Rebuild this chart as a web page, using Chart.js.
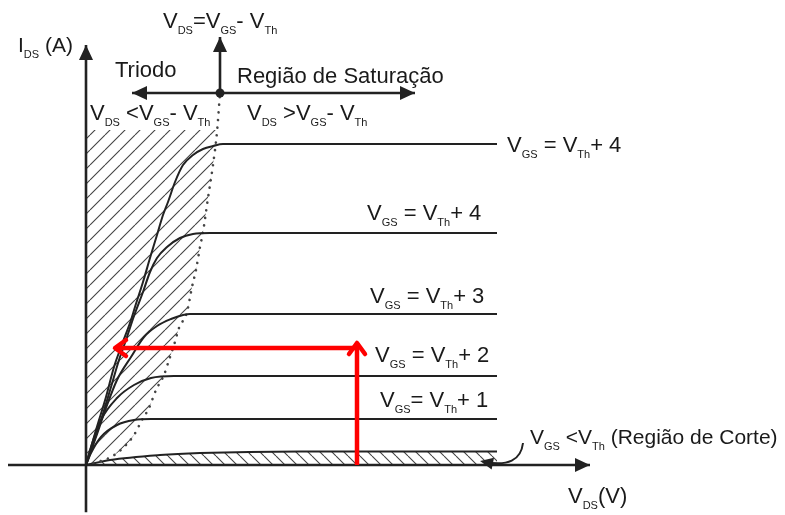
<!DOCTYPE html>
<html>
<head>
<meta charset="utf-8">
<script src="https://cdn.jsdelivr.net/npm/chart.js@4.4.1/dist/chart.umd.min.js"></script>
<style>
  body { margin: 0; background: #fff; }
  #wrap { width: 785px; height: 515px; position: relative; }
</style>
</head>
<body>
<div id="wrap"><canvas id="myChart"></canvas></div>
<script>
// curvas I_DS x V_DS, pontos [V_DS, I_DS] em unidades arbitrárias
const curveVgs4Top = [[0,0],[0.2,0.875],[0.4,1.7],[0.56,2.45],[0.7,2.95],[0.9,3.625],[0.98,3.95],[1.14,4.575],[1.28,5.175],[1.42,5.75],[1.54,6.25],[1.64,6.575],[1.78,7.075],[1.94,7.5],[2.14,7.75],[2.34,7.9],[2.54,7.975],[2.74,8.025],[8.22,8.025]];
const curveVgs4 = [[0,0],[0.3,1.125],[0.5,1.95],[0.66,2.625],[0.8,3.125],[0.96,3.725],[1.14,4.325],[1.28,4.825],[1.42,5.175],[1.62,5.45],[1.88,5.675],[2.14,5.775],[2.48,5.8],[8.22,5.8]];
const curveVgs3 = [[0,0],[0.2,0.7],[0.4,1.425],[0.62,2.125],[0.9,2.7],[1.16,3.2],[1.42,3.475],[1.7,3.65],[1.94,3.75],[2.08,3.775],[8.22,3.775]];
const curveVgs2 = [[0,0],[0.1,0.45],[0.3,1.125],[0.62,1.675],[0.96,2.0],[1.3,2.175],[1.76,2.225],[8.22,2.225]];
const curveVgs1 = [[0,0],[0.1,0.3],[0.3,0.7],[0.62,1.0],[0.96,1.125],[1.3,1.15],[1.54,1.15],[8.22,1.15]];
const curveCorte = [[0,0],[0.48,0.125],[1.48,0.25],[2.28,0.3],[4.28,0.34],[8.22,0.34]];

// limite V_DS = V_GS - V_Th
const saturationEdge = [[0,0],[0.5,0.2],[0.76,0.45],[0.96,0.75],[1.12,1.125],[1.26,1.425],[1.4,1.875],[1.56,2.25],[1.66,2.625],[1.76,3.0],[1.86,3.425],[2.02,3.825],[2.12,4.45],[2.2,4.875],[2.28,5.45],[2.34,5.825],[2.44,6.675],[2.54,7.5],[2.62,8.325],[2.68,9.3]];
const triodeTop = 8.375;

// eixos e setas
const axisX = [[-1.56,0],[10.08,0]];
const axisY = [[0,-1.18],[0,10.5]];
const markerUp = [[2.68,9.3],[2.68,10.7]];
const markerLeft = [[2.68,9.3],[0.92,9.3]];
const markerRight = [[2.68,9.3],[6.58,9.3]];
const redUp = [[5.42,0],[5.42,3.05]];
const redLeft = [[5.42,2.925],[0.58,2.925]];
const cortePointer = [[8.74,0.55],[8.68,-0.1],[7.96,0.08]];

const labelTexts = [
  'V_{DS}=V_{GS}- V_{Th}',
  'I_{DS} (A)',
  'Triodo',
  'Região de Saturação',
  'V_{DS} <V_{GS}- V_{Th}',
  'V_{DS} >V_{GS}- V_{Th}',
  'V_{GS} = V_{Th}+ 4',
  'V_{GS} = V_{Th}+ 4',
  'V_{GS} = V_{Th}+ 3',
  'V_{GS} = V_{Th}+ 2',
  'V_{GS}= V_{Th}+ 1',
  'V_{GS} <V_{Th} (Região de Corte)',
  'V_{DS}(V)'
];
const labelPos = [[1.54,10.925],[-1.36,10.325],[0.58,9.7],[3.02,9.55],[0.08,8.625],[3.22,8.625],[8.42,7.825],[5.62,6.125],[5.68,4.05],[5.78,2.575],[5.88,1.45],[8.88,0.525],[9.64,-0.95]];
const labelSize = [22, 21, 22, 22, 22, 22, 22, 22, 22, 22, 22, 21, 22];

const pts = arr => arr.map(([x, y]) => ({x, y}));

function hatch(size, dir) {
  const c = document.createElement('canvas');
  c.width = c.height = size;
  const g = c.getContext('2d');
  g.strokeStyle = '#444';
  g.lineWidth = 1.1;
  g.beginPath();
  for (let k = -1; k <= 1; k++) {
    if (dir > 0) { g.moveTo(k * size, size); g.lineTo(k * size + size, 0); }
    else { g.moveTo(k * size, 0); g.lineTo(k * size + size, size); }
  }
  g.stroke();
  return g.createPattern(c, 'repeat');
}

function line(data, opts) {
  return Object.assign({
    data: pts(data), showLine: true, borderColor: '#222', borderWidth: 2,
    pointRadius: 0, fill: false, cubicInterpolationMode: 'monotone'
  }, opts);
}

const datasets = [
  line(saturationEdge.filter(p => p[1] <= triodeTop), {
    borderWidth: 0, borderColor: 'rgba(0,0,0,0)', backgroundColor: hatch(15, 1),
    fill: {value: triodeTop}, order: 10
  }),
  line(curveCorte, {backgroundColor: hatch(12, -1), fill: 'origin', order: 9}),
  line(saturationEdge, {borderColor: '#444', borderWidth: 2.6, borderDash: [0.1, 7.5], borderCapStyle: 'round', order: 8}),
  line(curveVgs4Top), line(curveVgs4), line(curveVgs3), line(curveVgs2), line(curveVgs1),
  line(axisX, {borderWidth: 2.6, head: 'solid'}),
  line(axisY, {borderWidth: 2.6, head: 'solid'}),
  line(markerUp, {borderWidth: 2.6, head: 'solid', pointRadius: c => c.dataIndex === 0 ? 4.5 : 0, pointBackgroundColor: '#222', pointBorderWidth: 0, order: -1}),
  line(markerLeft, {borderWidth: 2.6, head: 'solid'}),
  line(markerRight, {borderWidth: 2.6, head: 'solid'}),
  line(redUp, {borderColor: '#ff0000', borderWidth: 4.5, head: 'open', order: -2}),
  line(redLeft, {borderColor: '#ff0000', borderWidth: 4.5, head: 'open', order: -2})
];

function drawRich(ctx, text, x, y, size) {
  const parts = text.split(/_\{([^}]*)\}/);
  parts.forEach((p, i) => {
    const sub = i % 2 === 1;
    ctx.font = (sub ? 11 : size) + 'px "Liberation Sans", Arial, sans-serif';
    ctx.fillText(p, x, sub ? y + 6 : y);
    x += ctx.measureText(p).width;
  });
}

const annotations = {
  id: 'annotations',
  afterDatasetsDraw(chart) {
    const ctx = chart.ctx;
    const sx = chart.scales.x, sy = chart.scales.y;
    ctx.save();
    chart.data.datasets.forEach((ds, i) => {
      if (!ds.head) return;
      const el = chart.getDatasetMeta(i).data;
      const tip = el[el.length - 1], prev = el[el.length - 2];
      const a = Math.atan2(tip.y - prev.y, tip.x - prev.x);
      ctx.save();
      ctx.translate(tip.x, tip.y);
      ctx.rotate(a);
      if (ds.head === 'solid') {
        ctx.fillStyle = ds.borderColor;
        ctx.beginPath();
        ctx.moveTo(0, 0); ctx.lineTo(-15, -7); ctx.lineTo(-15, 7);
        ctx.closePath(); ctx.fill();
      } else {
        ctx.strokeStyle = ds.borderColor;
        ctx.lineWidth = ds.borderWidth;
        ctx.lineCap = 'round'; ctx.lineJoin = 'round';
        ctx.beginPath();
        ctx.moveTo(-11, -8); ctx.lineTo(0, 0); ctx.lineTo(-11, 8);
        ctx.stroke();
      }
      ctx.restore();
    });

    // seta curva apontando para a região de corte
    const [p0, p1, p2] = cortePointer.map(([x, y]) => [sx.getPixelForValue(x), sy.getPixelForValue(y)]);
    ctx.strokeStyle = '#222'; ctx.lineWidth = 2;
    ctx.beginPath();
    ctx.moveTo(p0[0], p0[1]);
    ctx.quadraticCurveTo(p1[0], p1[1], p2[0], p2[1]);
    ctx.stroke();
    const a = Math.atan2(p2[1] - p1[1], p2[0] - p1[0]);
    ctx.translate(p2[0], p2[1]); ctx.rotate(a);
    ctx.fillStyle = '#222';
    ctx.beginPath();
    ctx.moveTo(4, 0); ctx.lineTo(-9, -6); ctx.lineTo(-9, 6);
    ctx.closePath(); ctx.fill();
    ctx.restore();

    ctx.save();
    ctx.fillStyle = '#1a1a1a';
    ctx.textBaseline = 'alphabetic';
    labelTexts.forEach((t, i) => {
      drawRich(ctx, t, sx.getPixelForValue(labelPos[i][0]), sy.getPixelForValue(labelPos[i][1]), labelSize[i]);
    });
    ctx.restore();
  }
};

new Chart(document.getElementById('myChart'), {
  type: 'scatter',
  data: { datasets },
  options: {
    responsive: true,
    maintainAspectRatio: false,
    animation: false,
    layout: { padding: 0, autoPadding: false },
    plugins: { legend: { display: false }, tooltip: { enabled: false } },
    elements: { point: { radius: 0, hoverRadius: 0 } },
    scales: {
      x: { type: 'linear', min: -1.72, max: 13.98, display: false },
      y: { type: 'linear', min: -1.25, max: 11.625, display: false }
    }
  },
  plugins: [annotations]
});
</script>
</body>
</html>
